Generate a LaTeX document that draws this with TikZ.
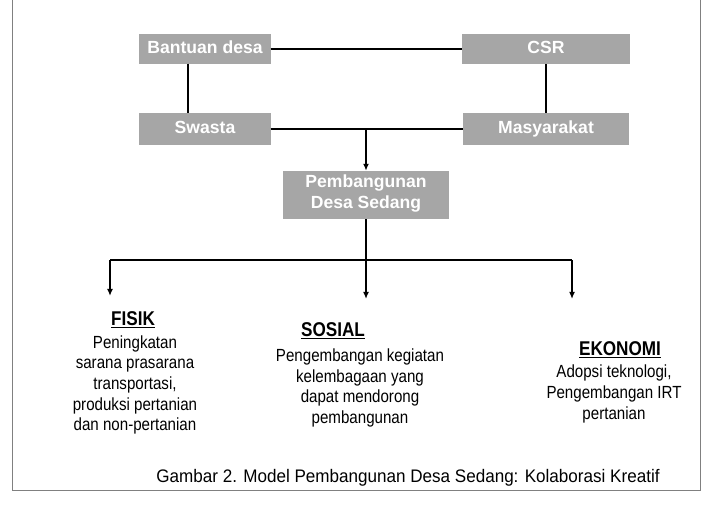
\documentclass[tikz,border=0pt]{standalone}
\usepackage{fontspec}
\setmainfont{Liberation Sans}
\newfontfamily\narrowfont[FakeStretch=0.86]{Liberation Sans}
\newfontfamily\capfont[FakeStretch=0.94]{Liberation Sans}
\usetikzlibrary{arrows.meta}

\begin{document}
\begin{tikzpicture}
[
	greybox/.style={draw=black!35,fill=black!35,text=white,inner sep=0pt,
		font=\fontsize{15}{18}\selectfont\bfseries,align=center,
		execute at begin node=\strut},
	heading/.style={font=\narrowfont\fontsize{17}{19}\selectfont\bfseries},
	body/.style={font=\narrowfont\fontsize{15}{17.6}\selectfont,align=center},
	arr/.style={-{Latex[length=6pt,width=5pt]}},
	x=0.03cm,
	y=-0.03cm,
	line width=1.2pt
]

	\useasboundingbox (0,0) rectangle (710,506);

	% frame of the figure
	\draw[black!50,line width=0.6pt] (12,0) -- (12,490) -- (700,490) -- (700,0);

	% actors
	\node[greybox,minimum width=3.9cm,minimum height=0.84cm] at (205,49) (bantuan) {Bantuan desa};
	\node[greybox,minimum width=4.98cm,minimum height=0.87cm] at (546,49) (csr) {CSR};
	\node[greybox,minimum width=3.9cm,minimum height=0.9cm] at (205,129) (swasta) {Swasta};
	\node[greybox,minimum width=4.95cm,minimum height=0.9cm] at (546,129) (masyarakat) {Masyarakat};
	\node[greybox,minimum width=4.95cm,minimum height=1.41cm] at (366,195) (pemb) {Pembangunan\\Desa Sedang};

	\draw (bantuan) -- (csr);
	\draw ([xshift=-0.51cm]bantuan.south) -- ([xshift=-0.51cm]swasta.north);
	\draw (csr) -- (masyarakat);
	\draw (swasta) -- (masyarakat);

	\coordinate (mid) at (366,129);
	\draw[arr] (mid) -- (pemb.north);

	% split into three fields
	\coordinate (split) at (366,260);
	\coordinate (left) at (110,260);
	\coordinate (right) at (572,260);
	\coordinate (fisikEnd) at (110,296);
	\coordinate (sosialEnd) at (366,299);
	\coordinate (ekonomiEnd) at (572,299);

	\draw (pemb.south) -- (split);
	\draw (left) -- (right);
	\draw[arr] (left) -- (fisikEnd);
	\draw[arr] (split) -- (sosialEnd);
	\draw[arr] (right) -- (ekonomiEnd);

	% labels
	\node[heading] at (133,320) (fisikT) {\underline{FISIK}};
	\node[body] at (135,385) (fisikB) {Peningkatan\\sarana prasarana\\transportasi,\\produksi pertanian\\dan non-pertanian};

	\node[heading] at (333,331) (sosialT) {\underline{SOSIAL}};
	\node[body] at (360,388) (sosialB) {Pengembangan kegiatan\\kelembagaan yang\\dapat mendorong\\pembangunan};

	\node[heading] at (620,350) (ekonomiT) {\underline{EKONOMI}};
	\node[body] at (614,394) (ekonomiB) {Adopsi teknologi,\\Pengembangan IRT\\pertanian};

	\node[font=\capfont\fontsize{15.5}{17}\selectfont] at (408,478) (caption) {Gambar 2. Model Pembangunan Desa Sedang: Kolaborasi Kreatif};

\end{tikzpicture}
\end{document}
